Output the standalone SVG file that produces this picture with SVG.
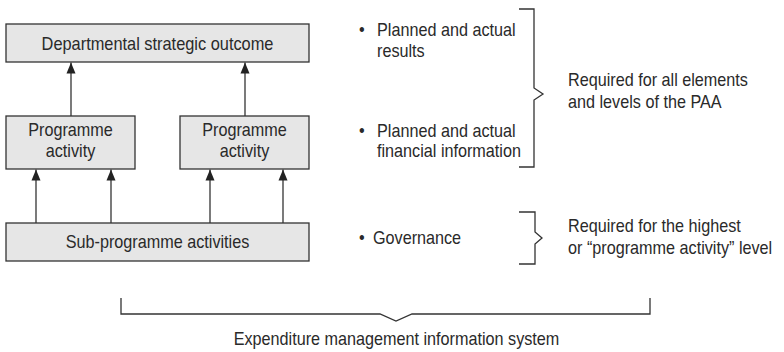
<svg xmlns="http://www.w3.org/2000/svg" width="784" height="352" viewBox="0 0 784 352">
<style>
  .box { fill: #e6e6e6; stroke: #333; stroke-width: 1.3; }
  .lbl { font-family: "Liberation Sans", Arial, sans-serif; font-size: 18px; fill: #2a2a2a; }
  .mid { text-anchor: middle; }
  .conn { stroke: #333; stroke-width: 1.3; fill: none; }
  .brk { stroke: #333; stroke-width: 1.3; fill: none; stroke-linejoin: miter; }
</style>
<defs>
  <marker id="arr" viewBox="0 -5 12 10" refX="11" refY="0" markerWidth="12" markerHeight="10" markerUnits="userSpaceOnUse" orient="auto">
    <path d="M0,-4.5 L11,0 L0,4.5 z" fill="#222"/>
  </marker>
</defs>
<rect width="784" height="352" fill="#ffffff"/>

<g id="node-outcome">
  <rect class="box" x="6" y="24" width="303" height="38"/>
  <text class="lbl mid" transform="translate(157.5,50) scale(0.91,1)">Departmental strategic outcome</text>
</g>
<g id="node-pa1">
  <rect class="box" x="6" y="116" width="129" height="53"/>
  <text class="lbl mid" transform="translate(70.5,136) scale(0.9,1)">Programme</text>
  <text class="lbl mid" transform="translate(70.5,157) scale(0.9,1)">activity</text>
</g>
<g id="node-pa2">
  <rect class="box" x="180" y="116" width="129" height="53"/>
  <text class="lbl mid" transform="translate(244.5,136) scale(0.9,1)">Programme</text>
  <text class="lbl mid" transform="translate(244.5,157) scale(0.9,1)">activity</text>
</g>
<g id="node-sub">
  <rect class="box" x="6" y="223" width="303" height="38"/>
  <text class="lbl mid" transform="translate(157.5,248) scale(0.9,1)">Sub-programme activities</text>
</g>

<g id="connectors">
  <line class="conn" x1="71" y1="116" x2="71" y2="62.5" marker-end="url(#arr)"/>
  <line class="conn" x1="245" y1="116" x2="245" y2="62.5" marker-end="url(#arr)"/>
  <line class="conn" x1="36" y1="223" x2="36" y2="169.5" marker-end="url(#arr)"/>
  <line class="conn" x1="111" y1="223" x2="111" y2="169.5" marker-end="url(#arr)"/>
  <line class="conn" x1="210" y1="223" x2="210" y2="169.5" marker-end="url(#arr)"/>
  <line class="conn" x1="283" y1="223" x2="283" y2="169.5" marker-end="url(#arr)"/>
</g>

<g id="notes">
  <text class="lbl" transform="translate(359,36) scale(0.9,1)"><tspan x="0">•</tspan><tspan x="20">Planned and actual</tspan></text>
  <text class="lbl" transform="translate(377,57) scale(0.9,1)">results</text>
  <text class="lbl" transform="translate(359,137) scale(0.9,1)"><tspan x="0">•</tspan><tspan x="20">Planned and actual</tspan></text>
  <text class="lbl" transform="translate(377,157) scale(0.9,1)">financial information</text>
  <text class="lbl" transform="translate(359,244) scale(0.9,1)"><tspan x="0">•</tspan><tspan x="15.5">Governance</tspan></text>

  <path class="brk" d="M519,9 H534 V88 L543,94 L534,100 V167 H519"/>
  <path class="brk" d="M519,212 H535 V232 L542,238 L535,244 V264 H519"/>

  <text class="lbl" transform="translate(568,86) scale(0.9,1)">Required for all elements</text>
  <text class="lbl" transform="translate(568,108) scale(0.9,1)">and levels of the PAA</text>
  <text class="lbl" transform="translate(568,232) scale(0.9,1)">Required for the highest</text>
  <text class="lbl" transform="translate(568,254) scale(0.9,1)">or “programme activity” level</text>

  <path class="brk" d="M121,298 V314 H380 L396,321 L412,314 H650 V298"/>
  <text class="lbl mid" transform="translate(396.5,345) scale(0.9,1)">Expenditure management information system</text>
</g>
</svg>
